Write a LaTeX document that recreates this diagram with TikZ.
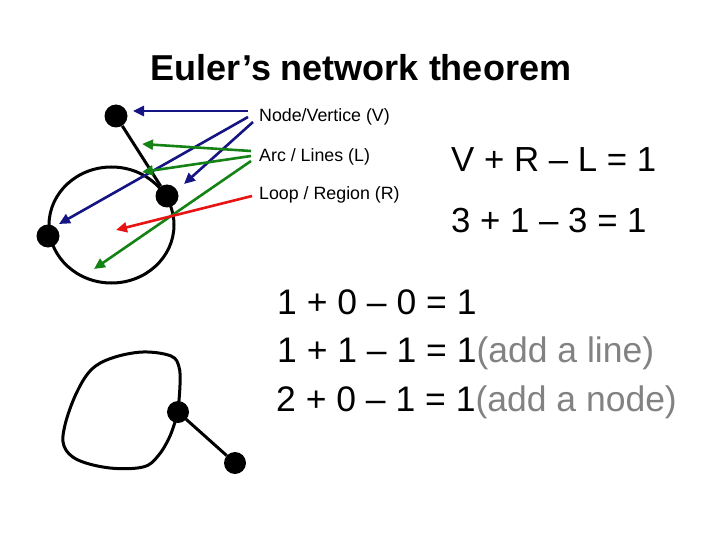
\documentclass[tikz,border=0pt]{standalone}
\usepackage{fontspec}
\setmainfont{Liberation Sans}
\usetikzlibrary{arrows.meta, positioning}
\definecolor{navyline}{RGB}{20,20,130}
\definecolor{greenline}{RGB}{20,130,20}
\definecolor{redline}{RGB}{230,20,20}
\definecolor{notegray}{RGB}{130,130,130}
\tikzset{
    vertex/.style={circle, fill=black, inner sep=0pt, minimum size=23pt},
    edge/.style={line width=3pt, black},
    pointer/.style={line width=2.6pt, -{Triangle[length=11pt,width=10pt]}},
    tag/.style={anchor=base west, inner sep=0pt, font=\fontsize{17.8}{21}\selectfont},
    eqn/.style={anchor=base west, inner sep=0pt, font=\fontsize{35.5}{42}\selectfont}
}

\begin{document}
\begin{tikzpicture}[x=1pt, y=-1pt]
    \useasboundingbox (0,0) rectangle (720,540);

    % title
    \node (title) [anchor=base, inner sep=0pt, font=\fontsize{36}{42}\selectfont\bfseries] at (361,81) {Euler’s network theorem};

    % first graph
    \node (va) [vertex] at (116,116) {};
    \node (vb) [vertex] at (167,196) {};
    \node (vc) [vertex] at (48,236) {};
    \draw [edge] (111.5,225) ellipse (62.5 and 58);
    \draw [edge] (va) -- (vb);

    % labels
    \node (tagV) [tag] at (259,121.5) {Node/Vertice (V)};
    \node (tagL) [tag] at (259,161.5) {Arc / Lines (L)};
    \node (tagR) [tag] at (259,200) {Loop / Region (R)};

    % pointer ends
    \coordinate (sV1) at (248,111);
    \coordinate (sV2) at (248,117);
    \coordinate (sV3) at (253,122);
    \coordinate (tV1) at (133,111);
    \coordinate (tV2) at (59,224);
    \coordinate (tV3) at (184,184);
    \coordinate (sL1) at (251,151);
    \coordinate (sL2) at (251,156);
    \coordinate (sL3) at (251,161);
    \coordinate (tL1) at (142,144);
    \coordinate (tL2) at (142,172);
    \coordinate (tL3) at (94,269);
    \coordinate (sR) at (252,196);
    \coordinate (tR) at (116,230);

    \draw [pointer, navyline] (sV1) -- (tV1);
    \draw [pointer, navyline] (sV2) -- (tV2);
    \draw [pointer, navyline] (sV3) -- (tV3);
    \draw [pointer, greenline] (sL1) -- (tL1);
    \draw [pointer, greenline] (sL2) -- (tL2);
    \draw [pointer, greenline] (sL3) -- (tL3);
    \draw [pointer, redline] (sR) -- (tR);

    % equations
    \node (eqA) [eqn, font=\fontsize{34.8}{42}\selectfont] at (451,172) {V + R – L = 1};
    \node (eqB) [eqn, font=\fontsize{34.8}{42}\selectfont] at (451,233) {3 + 1 – 3 = 1};
    \node (eqC) [eqn] at (277,314) {1 + 0 – 0 = 1};
    \node (eqD) [eqn] at (277,362.5) {1 + 1 – 1 = 1{\color{notegray}(add a line)}};
    \node (eqE) [eqn] at (276,411) {2 + 0 – 1 = 1{\color{notegray}(add a node)}};

    % second graph
    \node (vd) [vertex, minimum size=22pt] at (178,412) {};
    \node (ve) [vertex, minimum size=22pt] at (235,463) {};
    \draw [edge] (vd.center) -- (ve);
    \draw [edge] plot [smooth, tension=0.6] coordinates {(178,412) (180,385) (179,367) (171,356) (143,352) (112,358) (91,370) (76,394) (65,425) (64,446) (78,460) (110,468) (143,467) (158,456) (170,436) (178,412)};
\end{tikzpicture}
\end{document}
